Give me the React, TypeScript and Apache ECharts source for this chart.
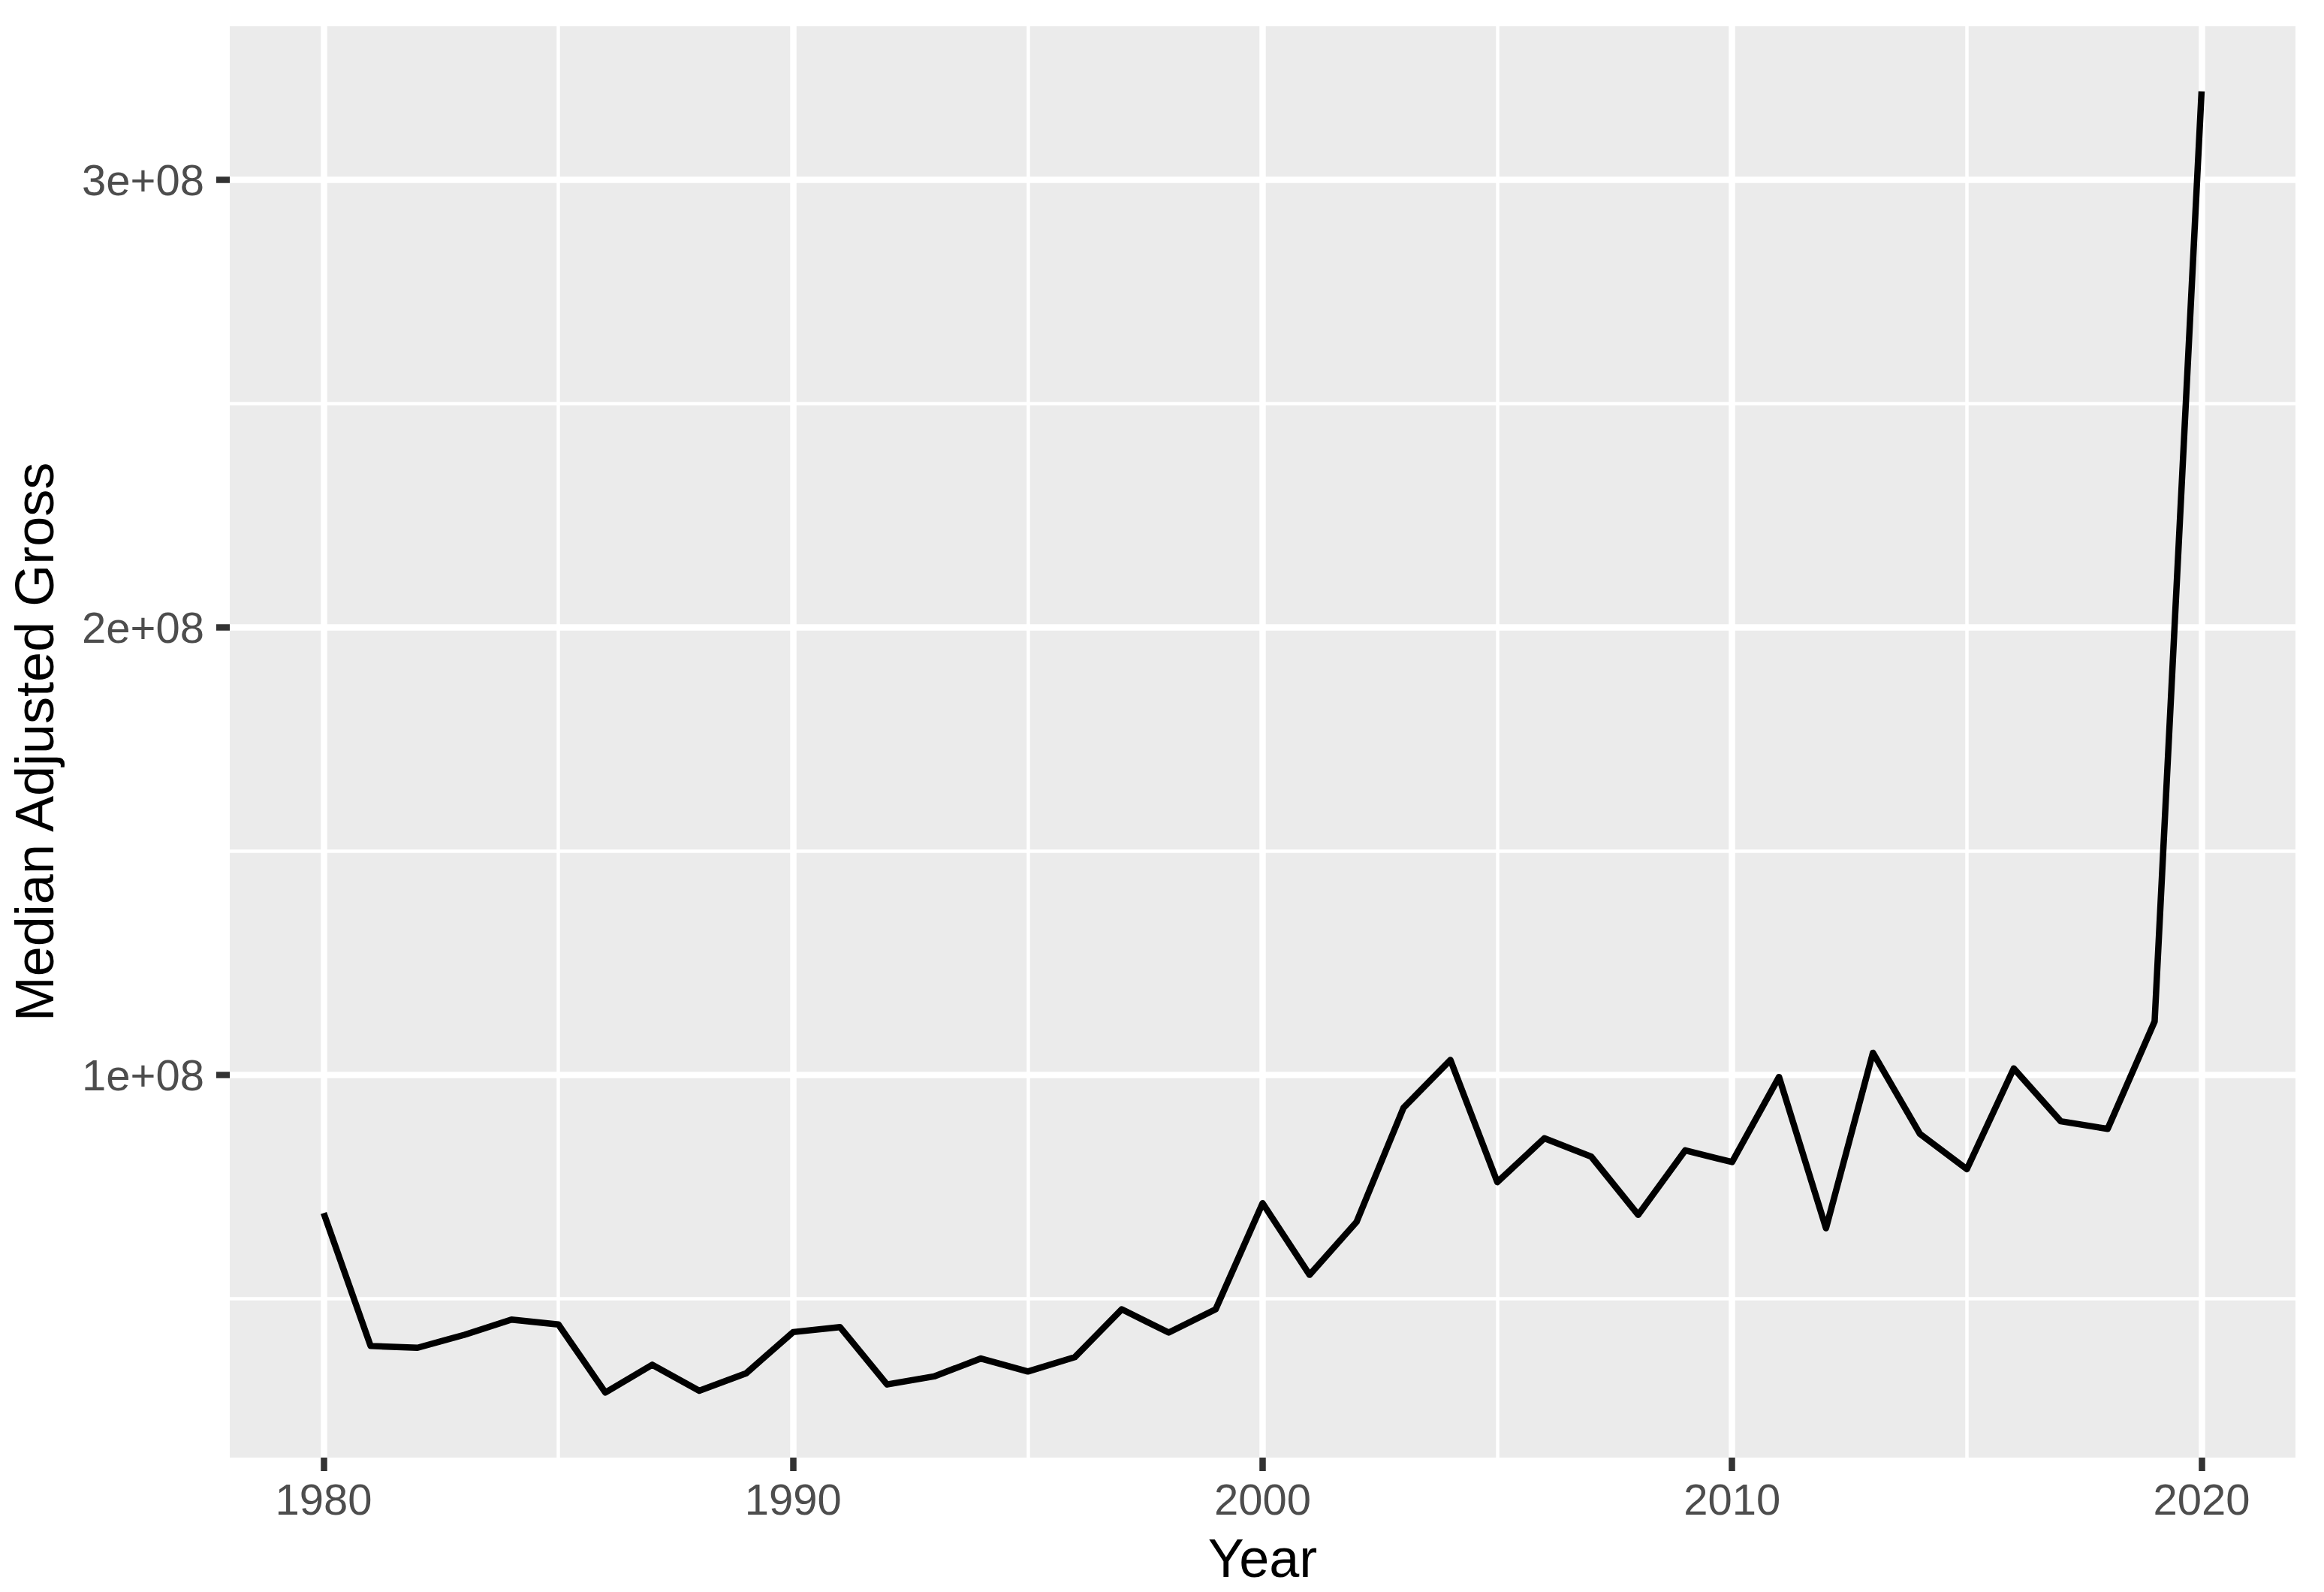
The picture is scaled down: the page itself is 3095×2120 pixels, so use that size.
import React, { useEffect, useRef } from "react";
import * as echarts from "echarts";

const years: number[] = [
  1980, 1981, 1982, 1983, 1984, 1985, 1986, 1987, 1988, 1989,
  1990, 1991, 1992, 1993, 1994, 1995, 1996, 1997, 1998, 1999,
  2000, 2001, 2002, 2003, 2004, 2005, 2006, 2007, 2008, 2009,
  2010, 2011, 2012, 2013, 2014, 2015, 2016, 2017, 2018, 2019, 2020,
];

// Median adjusted gross, in millions
const medianGrossM: number[] = [
  69.1, 39.4, 39.0, 41.9, 45.3, 44.2, 29.0, 35.2, 29.4, 33.3,
  42.5, 43.6, 30.8, 32.6, 36.6, 33.7, 36.9, 47.6, 42.4, 47.6,
  71.3, 55.3, 67.1, 92.6, 103.3, 76.0, 85.8, 81.7, 68.7, 83.1,
  80.5, 99.5, 65.7, 104.9, 86.8, 78.9, 101.4, 89.6, 87.9, 111.9, 319.7,
];

const xMajorBreaks: number[] = [1980, 1990, 2000, 2010, 2020];
const xMinorBreaks: number[] = [1985, 1995, 2005, 2015];
const yMajorBreaks: number[] = [1e8, 2e8, 3e8];
const yMinorBreaks: number[] = [0.5e8, 1.5e8, 2.5e8];

const FONT = "'Liberation Sans', Arial, Helvetica, sans-serif";

export default function App() {
  const ref = useRef<HTMLDivElement>(null);

  useEffect(() => {
    if (!ref.current) return;
    const chart = echarts.init(ref.current, undefined, { renderer: "svg" });

    const values = medianGrossM.map((v) => v * 1e6);
    const dMin = Math.min(...values);
    const dMax = Math.max(...values);
    const yPad = (dMax - dMin) * 0.05;
    const xLo = Math.min(...years);
    const xHi = Math.max(...years);
    const xPad = (xHi - xLo) * 0.05;

    const major = { color: "#FFFFFF", width: 8.5, type: "solid" as const };
    const minor = { color: "#FFFFFF", width: 4.5, type: "solid" as const };

    const gridLines = [
      ...xMinorBreaks.map((v) => ({ xAxis: v, lineStyle: minor })),
      ...yMinorBreaks.map((v) => ({ yAxis: v, lineStyle: minor })),
      ...xMajorBreaks.map((v) => ({ xAxis: v, lineStyle: major })),
      ...yMajorBreaks.map((v) => ({ yAxis: v, lineStyle: major })),
    ];

    chart.setOption({
      animation: false,
      backgroundColor: "#FFFFFF",
      grid: {
        left: 306,
        right: 38,
        top: 35,
        bottom: 179,
        show: true,
        backgroundColor: "#EBEBEB",
        borderWidth: 0,
        containLabel: false,
      },
      xAxis: {
        type: "value",
        min: xLo - xPad,
        max: xHi + xPad,
        name: "Year",
        nameLocation: "middle",
        nameGap: 98,
        nameTextStyle: { fontFamily: FONT, fontSize: 72, color: "#000000" },
        axisLine: { show: false },
        splitLine: { show: false },
        axisTick: {
          show: true,
          customValues: xMajorBreaks,
          length: 18,
          lineStyle: { color: "#333333", width: 8.5 },
        },
        axisLabel: {
          show: true,
          customValues: xMajorBreaks,
          margin: 26,
          fontFamily: FONT,
          fontSize: 58,
          color: "#4D4D4D",
          formatter: (v: number) => String(v),
        },
      },
      yAxis: {
        type: "value",
        min: dMin - yPad,
        max: dMax + yPad,
        name: "Median Adjusted Gross",
        nameLocation: "middle",
        nameGap: 224,
        nameTextStyle: { fontFamily: FONT, fontSize: 72, color: "#000000" },
        axisLine: { show: false },
        splitLine: { show: false },
        axisTick: {
          show: true,
          customValues: yMajorBreaks,
          length: 18,
          lineStyle: { color: "#333333", width: 8.5 },
        },
        axisLabel: {
          show: true,
          customValues: yMajorBreaks,
          margin: 34,
          fontFamily: FONT,
          fontSize: 58,
          color: "#4D4D4D",
          formatter: (v: number) => `${Math.round(v / 1e8)}e+08`,
        },
      },
      series: [
        {
          type: "line",
          name: "grid",
          z: 1,
          silent: true,
          data: [],
          markLine: {
            z: 1,
            silent: true,
            symbol: ["none", "none"],
            label: { show: false },
            emphasis: { disabled: true },
            animation: false,
            data: gridLines,
          },
        },
        {
          type: "line",
          name: "Median Adjusted Gross",
          z: 10,
          data: years.map((y, i) => [y, values[i]]),
          showSymbol: false,
          symbol: "none",
          silent: true,
          lineStyle: { color: "#000000", width: 8.5, cap: "butt", join: "round" },
        },
      ],
    });

    return () => chart.dispose();
  }, []);

  return (
    <div
      ref={ref}
      style={{ position: "absolute", left: 0, top: 0, width: 3095, height: 2120 }}
    />
  );
}
